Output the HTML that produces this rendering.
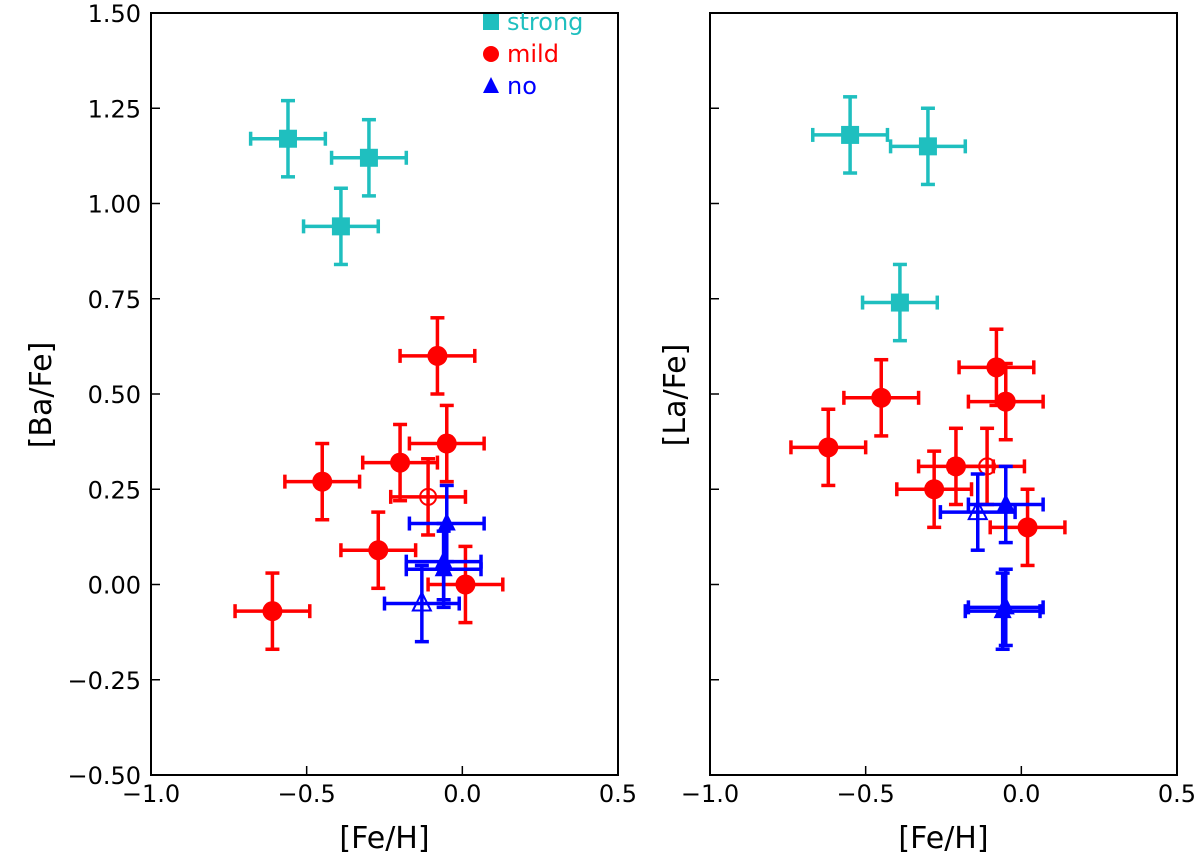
<!DOCTYPE html>
<html><head><meta charset="utf-8"><style>
body{margin:0;background:#fff}
svg{display:block;font-family:"DejaVu Sans","Liberation Sans",sans-serif}
</style></head><body>
<svg id="chart" width="1200" height="867"></svg>
<script>
// Left panel [Ba/Fe]
const baStrongX=[-0.56,-0.30,-0.39], baStrongY=[1.17,1.12,0.94];
const baMildX=[-0.08,-0.05,-0.20,-0.45,-0.27,-0.61,0.01], baMildY=[0.60,0.37,0.32,0.27,0.09,-0.07,0.00];
const baMildOpenX=[-0.11], baMildOpenY=[0.23];
const baNoX=[-0.05,-0.06,-0.06], baNoY=[0.16,0.06,0.04];
const baNoOpenX=[-0.13], baNoOpenY=[-0.05];
// Right panel [La/Fe]
const laStrongX=[-0.55,-0.30,-0.39], laStrongY=[1.18,1.15,0.74];
const laMildX=[-0.08,-0.05,-0.45,-0.62,-0.21,-0.28,0.02], laMildY=[0.57,0.48,0.49,0.36,0.31,0.25,0.15];
const laMildOpenX=[-0.11], laMildOpenY=[0.31];
const laNoX=[-0.05,-0.06,-0.05], laNoY=[0.21,-0.07,-0.06];
const laNoOpenX=[-0.14], laNoOpenY=[0.19];
const xTicks=[-1.0,-0.5,0.0,0.5], xTickLabels=["\u22121.0","\u22120.5","0.0","0.5"];
const yTicks=[1.5,1.25,1.0,0.75,0.5,0.25,0,-0.25,-0.5];
const yTickLabels=["1.50","1.25","1.00","0.75","0.50","0.25","0.00","\u22120.25","\u22120.50"];
const xErr=0.12, yErr=0.10;

const NS="http://www.w3.org/2000/svg";
const svg=document.getElementById('chart');
function mk(t,a,p){const e=document.createElementNS(NS,t);for(const k in a)e.setAttribute(k,a[k]);(p||svg).appendChild(e);return e;}
const plotTop=13,plotBot=775;
function yS(v){return plotTop+(1.5-v)/2.0*(plotBot-plotTop);}
function panel(x0,x1,name,ylab,showY,sets){
  const g=mk('g',{});
  
  
  const xS=v=>x0+(v+1)/1.5*(x1-x0);
  const fr=mk('rect',{x:x0,y:plotTop,width:x1-x0,height:plotBot-plotTop,fill:'none',stroke:'#000','stroke-width':2},g);
  
  
  xTicks.forEach((t,i)=>{
    mk('line',{x1:xS(t),x2:xS(t),y1:plotBot,y2:plotBot-9,stroke:'#000','stroke-width':1.5},g);
    const tx=mk('text',{x:xS(t),y:plotBot+27,'font-size':24,'text-anchor':'middle'},g);tx.textContent=xTickLabels[i];
    
    
  });
  yTicks.forEach((t,i)=>{
    mk('line',{x1:x0,x2:x0+9,y1:yS(t),y2:yS(t),stroke:'#000','stroke-width':1.5},g);
    if(showY){const tx=mk('text',{x:x0-10,y:yS(t)+9,'font-size':24,'text-anchor':'end'},g);tx.textContent=yTickLabels[i];
      
      }
  });
  const xl=mk('text',{x:(x0+x1)/2,y:848,'font-size':30,'text-anchor':'middle'},g);xl.textContent='[Fe/H]';
  
  
  const yx=x0-(showY?100:25);
  const yl=mk('text',{x:yx,y:395,'font-size':30,'text-anchor':'middle',transform:`rotate(-90 ${yx} 395)`},g);yl.textContent=ylab;
  
  
  sets.forEach(s=>{
    s.xs.forEach((xv,i)=>{
      const cx=xS(xv),cy=yS(s.ys[i]);
      const pg=mk('g',{stroke:s.c,'stroke-width':3.5,fill:s.open?'none':s.c},g);
      
      
      const ex=xS(xv+xErr)-cx, ey=yS(s.ys[i]-yErr)-cy;
      mk('line',{x1:cx-ex,x2:cx+ex,y1:cy,y2:cy},pg);
      mk('line',{x1:cx,x2:cx,y1:cy-ey,y2:cy+ey},pg);
      mk('line',{x1:cx-ex,x2:cx-ex,y1:cy-7,y2:cy+7},pg);
      mk('line',{x1:cx+ex,x2:cx+ex,y1:cy-7,y2:cy+7},pg);
      mk('line',{x1:cx-7,x2:cx+7,y1:cy-ey,y2:cy-ey},pg);
      mk('line',{x1:cx-7,x2:cx+7,y1:cy+ey,y2:cy+ey},pg);
      const sw=s.open?2:0;
      if(s.m==='s')mk('rect',{x:cx-9,y:cy-9,width:18,height:18,'stroke-width':sw},pg);
      else if(s.m==='c')mk('circle',{cx:cx,cy:cy,r:s.open?8:10,'stroke-width':sw},pg);
      else mk('polygon',{points:`${cx},${cy-11} ${cx+9},${cy+7} ${cx-9},${cy+7}`,'stroke-width':s.open?2:0},pg);
    });
  });
  return xS;
}
panel(151,618,'left-panel-ba','[Ba/Fe]',true,[
 {xs:baStrongX,ys:baStrongY,c:'#1fbfbf',m:'s',n:'strong'},
 {xs:baMildX,ys:baMildY,c:'#ff0000',m:'c',n:'mild'},
 {xs:baMildOpenX,ys:baMildOpenY,c:'#ff0000',m:'c',open:true,n:'mild-open'},
 {xs:baNoX,ys:baNoY,c:'#0000ff',m:'t',n:'no'},
 {xs:baNoOpenX,ys:baNoOpenY,c:'#0000ff',m:'t',open:true,n:'no-open'}]);
panel(710,1177,'right-panel-la','[La/Fe]',false,[
 {xs:laStrongX,ys:laStrongY,c:'#1fbfbf',m:'s',n:'strong'},
 {xs:laMildX,ys:laMildY,c:'#ff0000',m:'c',n:'mild'},
 {xs:laMildOpenX,ys:laMildOpenY,c:'#ff0000',m:'c',open:true,n:'mild-open'},
 {xs:laNoX,ys:laNoY,c:'#0000ff',m:'t',n:'no'},
 {xs:laNoOpenX,ys:laNoOpenY,c:'#0000ff',m:'t',open:true,n:'no-open'}]);
// legend
const lg=mk('g',{});


const leg=[['strong','#1fbfbf','s',22],['mild','#ff0000','c',54],['no','#0000ff','t',86]];
leg.forEach(l=>{
  const e=mk('g',{fill:l[1]},lg);
  
  
  const cx=491,cy=l[3];
  if(l[2]==='s')mk('rect',{x:cx-8,y:cy-8,width:16,height:16},e);
  else if(l[2]==='c')mk('circle',{cx:cx,cy:cy,r:8},e);
  else mk('polygon',{points:`${cx},${cy-9} ${cx+8},${cy+7} ${cx-8},${cy+7}`},e);
  const t=mk('text',{x:507,y:cy+8,'font-size':24},e);t.textContent=l[0];
});
</script>
</body></html>
